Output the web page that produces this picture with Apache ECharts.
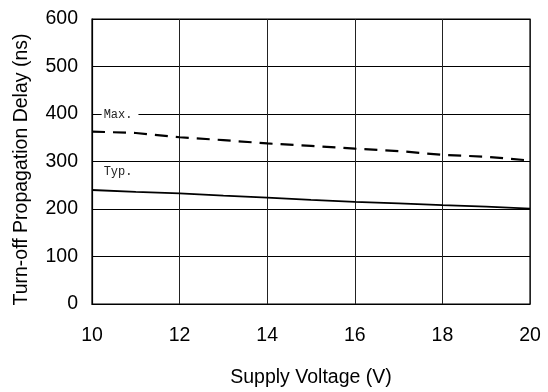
<!DOCTYPE html>
<html>
<head>
<meta charset="utf-8">
<script src="https://cdn.jsdelivr.net/npm/echarts@6/dist/echarts.min.js"></script>
<style>
  html, body { margin: 0; padding: 0; background: #fff; }
  #chart { width: 548px; height: 392px; }
</style>
</head>
<body>
<div id="chart"></div>
<script>
// Supply voltage (V) sample points
const voltages = [10, 11, 12, 13, 14, 15, 16, 17, 18, 19, 20];
// Turn-off propagation delay (ns)
const typDelay = [240, 236, 233, 228, 224, 219, 215, 212, 208, 205, 201];
const maxDelay = [363, 360, 351, 345, 338, 333, 327, 322, 314, 310, 302];
// Curve labels and where they sit (data coordinates)
const curveLabels = ['Max.', 'Typ.'];
const labelAnchors = [[10.22, 398], [10.22, 279]];

const chart = echarts.init(document.getElementById('chart'), null, { renderer: 'canvas' });

const axisFont = { fontFamily: 'Liberation Sans, Arial, sans-serif', fontSize: 19.5, color: '#000' };

chart.setOption({
  animation: false,
  backgroundColor: '#fff',
  grid: {
    left: 92, right: 18, top: 19, bottom: 88, outerBoundsMode: 'none',
    show: true, borderColor: '#000', borderWidth: 1.2
  },
  xAxis: {
    type: 'value', min: 10, max: 20, interval: 2,
    name: 'Supply Voltage (V)', nameLocation: 'middle', nameGap: 64,
    nameTextStyle: Object.assign({}, axisFont),
    axisLine: { show: true, lineStyle: { color: '#000', width: 1.2 } },
    axisTick: { show: false },
    axisLabel: Object.assign({ margin: 22 }, axisFont),
    splitLine: { show: true, lineStyle: { color: '#222', width: 1 } }
  },
  yAxis: {
    type: 'value', min: 0, max: 600, interval: 100,
    name: 'Turn-off Propagation Delay (ns)', nameLocation: 'middle', nameGap: 60,
    nameTextStyle: Object.assign({ padding: [0, 16, 0, 0] }, axisFont),
    axisLine: { show: true, lineStyle: { color: '#000', width: 1.2 } },
    axisTick: { show: false },
    axisLabel: Object.assign({ margin: 14 }, axisFont),
    splitLine: { show: true, lineStyle: { color: '#000', width: 1 } }
  },
  series: [
    {
      name: 'Typ.', type: 'line', symbol: 'none', z: 3,
      data: voltages.map((v, i) => [v, typDelay[i]]),
      lineStyle: { color: '#000', width: 1.8 }
    },
    {
      name: 'Max.', type: 'line', symbol: 'none', z: 3,
      data: voltages.map((v, i) => [v, maxDelay[i]]),
      lineStyle: { color: '#000', width: 2.2, type: [13, 8] }
    }
  ]
});

// Curve captions in a small monospace face, boxed in white so the grid line breaks around them
chart.setOption({
  graphic: curveLabels.map((txt, i) => {
    const p = chart.convertToPixel({ gridIndex: 0 }, labelAnchors[i]);
    return {
      type: 'text', x: p[0], y: p[1], z: 10,
      style: {
        text: txt, fill: '#222',
        font: '12px "Liberation Mono", "DejaVu Sans Mono", monospace',
        verticalAlign: 'middle',
        backgroundColor: '#fff', padding: [1, 6, 1, 2]
      }
    };
  })
});
</script>
</body>
</html>
